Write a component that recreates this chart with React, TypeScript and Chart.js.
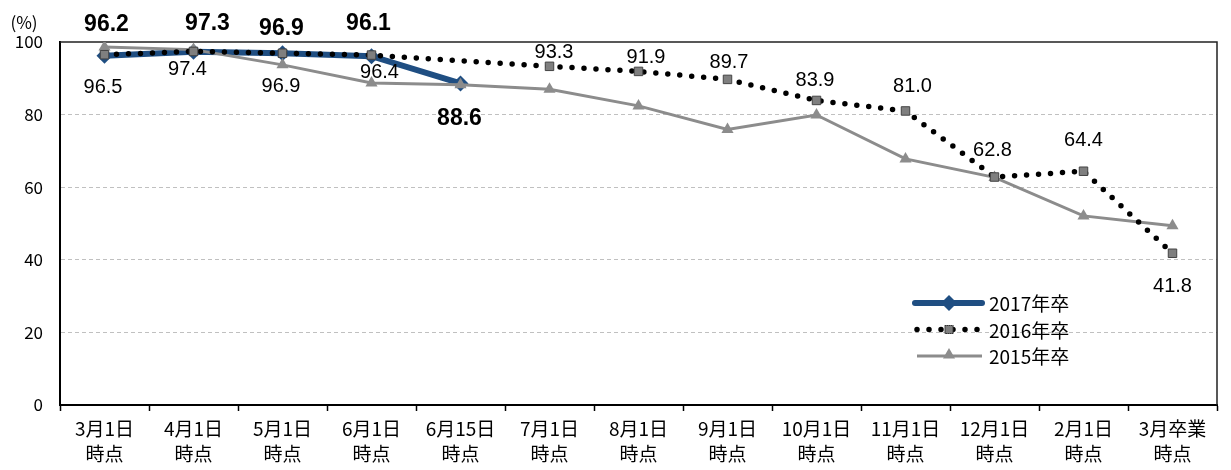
import { useEffect, useRef } from 'react';
import { Chart, registerables } from 'chart.js';

Chart.register(...registerables);

const categories: string[][] = [
  ['3月1日', '時点'],
  ['4月1日', '時点'],
  ['5月1日', '時点'],
  ['6月1日', '時点'],
  ['6月15日', '時点'],
  ['7月1日', '時点'],
  ['8月1日', '時点'],
  ['9月1日', '時点'],
  ['10月1日', '時点'],
  ['11月1日', '時点'],
  ['12月1日', '時点'],
  ['2月1日', '時点'],
  ['3月卒業', '時点'],
];

const series2017: (number | null)[] = [96.2, 97.3, 96.9, 96.1, 88.6, null, null, null, null, null, null, null, null];
const series2016: (number | null)[] = [96.5, 97.4, 96.9, 96.4, null, 93.3, 91.9, 89.7, 83.9, 81.0, 62.8, 64.4, 41.8];
const series2015: (number | null)[] = [98.6, 97.9, 93.7, 88.7, 88.2, 87.0, 82.4, 75.9, 79.9, 67.8, 62.7, 52.1, 49.4];

const seriesNames = ['2017年卒', '2016年卒', '2015年卒'];
const yTickValues = [0, 20, 40, 60, 80, 100];

// label placement (pixel offsets from each point), layout only
const labelOffsets2017: ([number, number] | null)[] = [[2, -31], [14, -28], [-1, -25], [-3, -33], [-1, 35], null, null, null, null, null, null, null, null];
const labelOffsets2016: ([number, number] | null)[] = [[-1.5, 33], [-6, 18], [-1.5, 33], [8, 17], null, [4.5, -14], [7.5, -14], [1.5, -17], [-1.5, -20], [7, -24], [-2, -27], [0, -31], [0, 33]];

const BLUE = '#1f4e82';
const GRAY = '#8c8c8c';
const SQGRAY = '#7f7f7f';
const CJK = '"Noto Sans CJK JP", "Noto Sans", sans-serif';
const NUM = '"Liberation Sans", Arial, sans-serif';

function drawDiamond(ctx: CanvasRenderingContext2D, x: number, y: number, r: number, color: string) {
  ctx.beginPath();
  ctx.moveTo(x, y - r);
  ctx.lineTo(x + r, y);
  ctx.lineTo(x, y + r);
  ctx.lineTo(x - r, y);
  ctx.closePath();
  ctx.fillStyle = color;
  ctx.fill();
}
function drawSquare(ctx: CanvasRenderingContext2D, x: number, y: number, s: number) {
  ctx.fillStyle = SQGRAY;
  ctx.fillRect(x - s / 2, y - s / 2, s, s);
  ctx.strokeStyle = '#333';
  ctx.lineWidth = 1;
  ctx.setLineDash([1, 1]);
  ctx.strokeRect(x - s / 2, y - s / 2, s, s);
  ctx.setLineDash([]);
}
function drawTriangle(ctx: CanvasRenderingContext2D, x: number, y: number, r: number) {
  ctx.beginPath();
  ctx.moveTo(x, y - r);
  ctx.lineTo(x + r * 0.866, y + r * 0.5);
  ctx.lineTo(x - r * 0.866, y + r * 0.5);
  ctx.closePath();
  ctx.fillStyle = GRAY;
  ctx.fill();
}

const frameAndLabels = {
  id: 'frameAndLabels',
  beforeDatasetsDraw(chart: any) {
    const { ctx, chartArea } = chart;
    ctx.save();
    ctx.strokeStyle = '#222';
    ctx.lineWidth = 1.5;
    ctx.beginPath();
    ctx.moveTo(chartArea.left, chartArea.top);
    ctx.lineTo(chartArea.right, chartArea.top);
    ctx.lineTo(chartArea.right, chartArea.bottom);
    ctx.stroke();
    ctx.restore();
  },
  afterDatasetsDraw(chart: any) {
    const { ctx } = chart;
    ctx.save();
    ctx.textAlign = 'center';
    ctx.textBaseline = 'middle';
    ctx.fillStyle = '#000';
    const sets: [number, ([number, number] | null)[], string][] = [
      [0, labelOffsets2017, `bold 23px ${NUM}`],
      [1, labelOffsets2016, `20px ${NUM}`],
    ];
    for (const [di, offs, font] of sets) {
      const meta = chart.getDatasetMeta(di);
      const data = chart.data.datasets[di].data as (number | null)[];
      ctx.font = font;
      data.forEach((v, j) => {
        const o = offs[j];
        if (v === null || !o) return;
        const p = meta.data[j];
        ctx.fillText(v.toFixed(1), p.x + o[0], p.y + o[1]);
      });
    }
    ctx.restore();
  },
  afterDraw(chart: any) {
    const { ctx } = chart;
    ctx.save();
    // unit label
    ctx.font = `17px ${CJK}`;
    ctx.fillStyle = '#000';
    ctx.textAlign = 'center';
    ctx.textBaseline = 'middle';
    ctx.fillText('(%)', 24, 23);
    // legend
    const rows = [303, 329.5, 356];
    const x1 = 915, x2 = 982, xm = 949, xt = 989;
    // 2017
    ctx.strokeStyle = BLUE;
    ctx.lineWidth = 6;
    ctx.lineCap = 'round';
    ctx.beginPath(); ctx.moveTo(x1, rows[0]); ctx.lineTo(x2, rows[0]); ctx.stroke();
    drawDiamond(ctx, xm, rows[0], 8, BLUE);
    // 2016
    ctx.strokeStyle = '#000';
    ctx.lineWidth = 5.5;
    ctx.setLineDash([0, 12]);
    ctx.beginPath(); ctx.moveTo(x1 + 2, rows[1]); ctx.lineTo(x2, rows[1]); ctx.stroke();
    ctx.setLineDash([]);
    drawSquare(ctx, xm, rows[1], 8);
    // 2015
    ctx.strokeStyle = GRAY;
    ctx.lineWidth = 3;
    ctx.lineCap = 'butt';
    ctx.beginPath(); ctx.moveTo(x1 + 2, rows[2]); ctx.lineTo(x2, rows[2]); ctx.stroke();
    drawTriangle(ctx, xm, rows[2] - 1, 7);
    ctx.font = `19px ${CJK}`;
    ctx.fillStyle = '#000';
    ctx.textAlign = 'left';
    ctx.textBaseline = 'middle';
    seriesNames.forEach((n, i) => ctx.fillText(n, xt, rows[i] + 1));
    ctx.restore();
  },
};

export default function App() {
  const ref = useRef<HTMLCanvasElement | null>(null);
  useEffect(() => {
    if (!ref.current) return;
    const chart = new Chart(ref.current, {
      type: 'line',
      data: {
        labels: categories,
        datasets: [
          {
            label: seriesNames[0],
            data: series2017,
            borderColor: BLUE,
            backgroundColor: BLUE,
            borderWidth: 6,
            pointStyle: 'rectRot',
            pointRadius: 8,
            pointBackgroundColor: BLUE,
            pointBorderColor: BLUE,
            pointBorderWidth: 0,
            order: 3,
          },
          {
            label: seriesNames[1],
            data: series2016,
            borderColor: '#000',
            borderWidth: 5.5,
            borderDash: [0, 12],
            borderCapStyle: 'round',
            pointStyle: 'rect',
            pointRadius: 6,
            pointBackgroundColor: SQGRAY,
            pointBorderColor: '#444',
            pointBorderWidth: 1,
            spanGaps: true,
            order: 1,
          },
          {
            label: seriesNames[2],
            data: series2015,
            borderColor: GRAY,
            backgroundColor: GRAY,
            borderWidth: 3,
            pointStyle: 'triangle',
            pointRadius: 7,
            pointBackgroundColor: GRAY,
            pointBorderColor: GRAY,
            pointBorderWidth: 0,
            order: 2,
          },
        ],
      } as any,
      options: {
        animation: false,
        responsive: false,
        maintainAspectRatio: false,
        layout: { padding: { left: 0, right: 14, top: 42, bottom: 0 } },
        plugins: { legend: { display: false }, tooltip: { enabled: false } },
        scales: {
          x: {
            offset: true,
            grid: {
              display: true,
              drawOnChartArea: false,
              drawTicks: true,
              tickLength: 6,
              tickColor: '#000',
              tickWidth: 1.5,
              offset: true,
            },
            border: { display: true, color: '#000', width: 2 },
            ticks: {
              color: '#000',
              font: { family: CJK, size: 19, lineHeight: 1.32 },
              padding: 5,
              maxRotation: 0,
              autoSkip: false,
            },
            afterFit: (s: any) => { s.height = 65; },
          },
          y: {
            min: 0,
            max: 100,
            afterBuildTicks: (s: any) => { s.ticks = yTickValues.map((v) => ({ value: v })); },
            ticks: { color: '#000', font: { family: CJK, size: 17 }, padding: 17 },
            grid: {
              color: (c: any) => (c.tick && (c.tick.value === 0 || c.tick.value === 100) ? 'rgba(0,0,0,0)' : '#c0c0c0'),
              lineWidth: 1,
              drawTicks: false,
            },
            border: { display: true, color: '#000', width: 2, dash: [4, 3] },
            afterFit: (s: any) => { s.width = 60; },
          },
        },
      } as any,
      plugins: [frameAndLabels],
    });
    return () => chart.destroy();
  }, []);
  return (
    <div style={{ position: 'absolute', left: 0, top: 0, width: 1231, height: 470, background: '#fff' }}>
      <canvas ref={ref} width={1231} height={470} style={{ width: 1231, height: 470, display: 'block' }} />
    </div>
  );
}
